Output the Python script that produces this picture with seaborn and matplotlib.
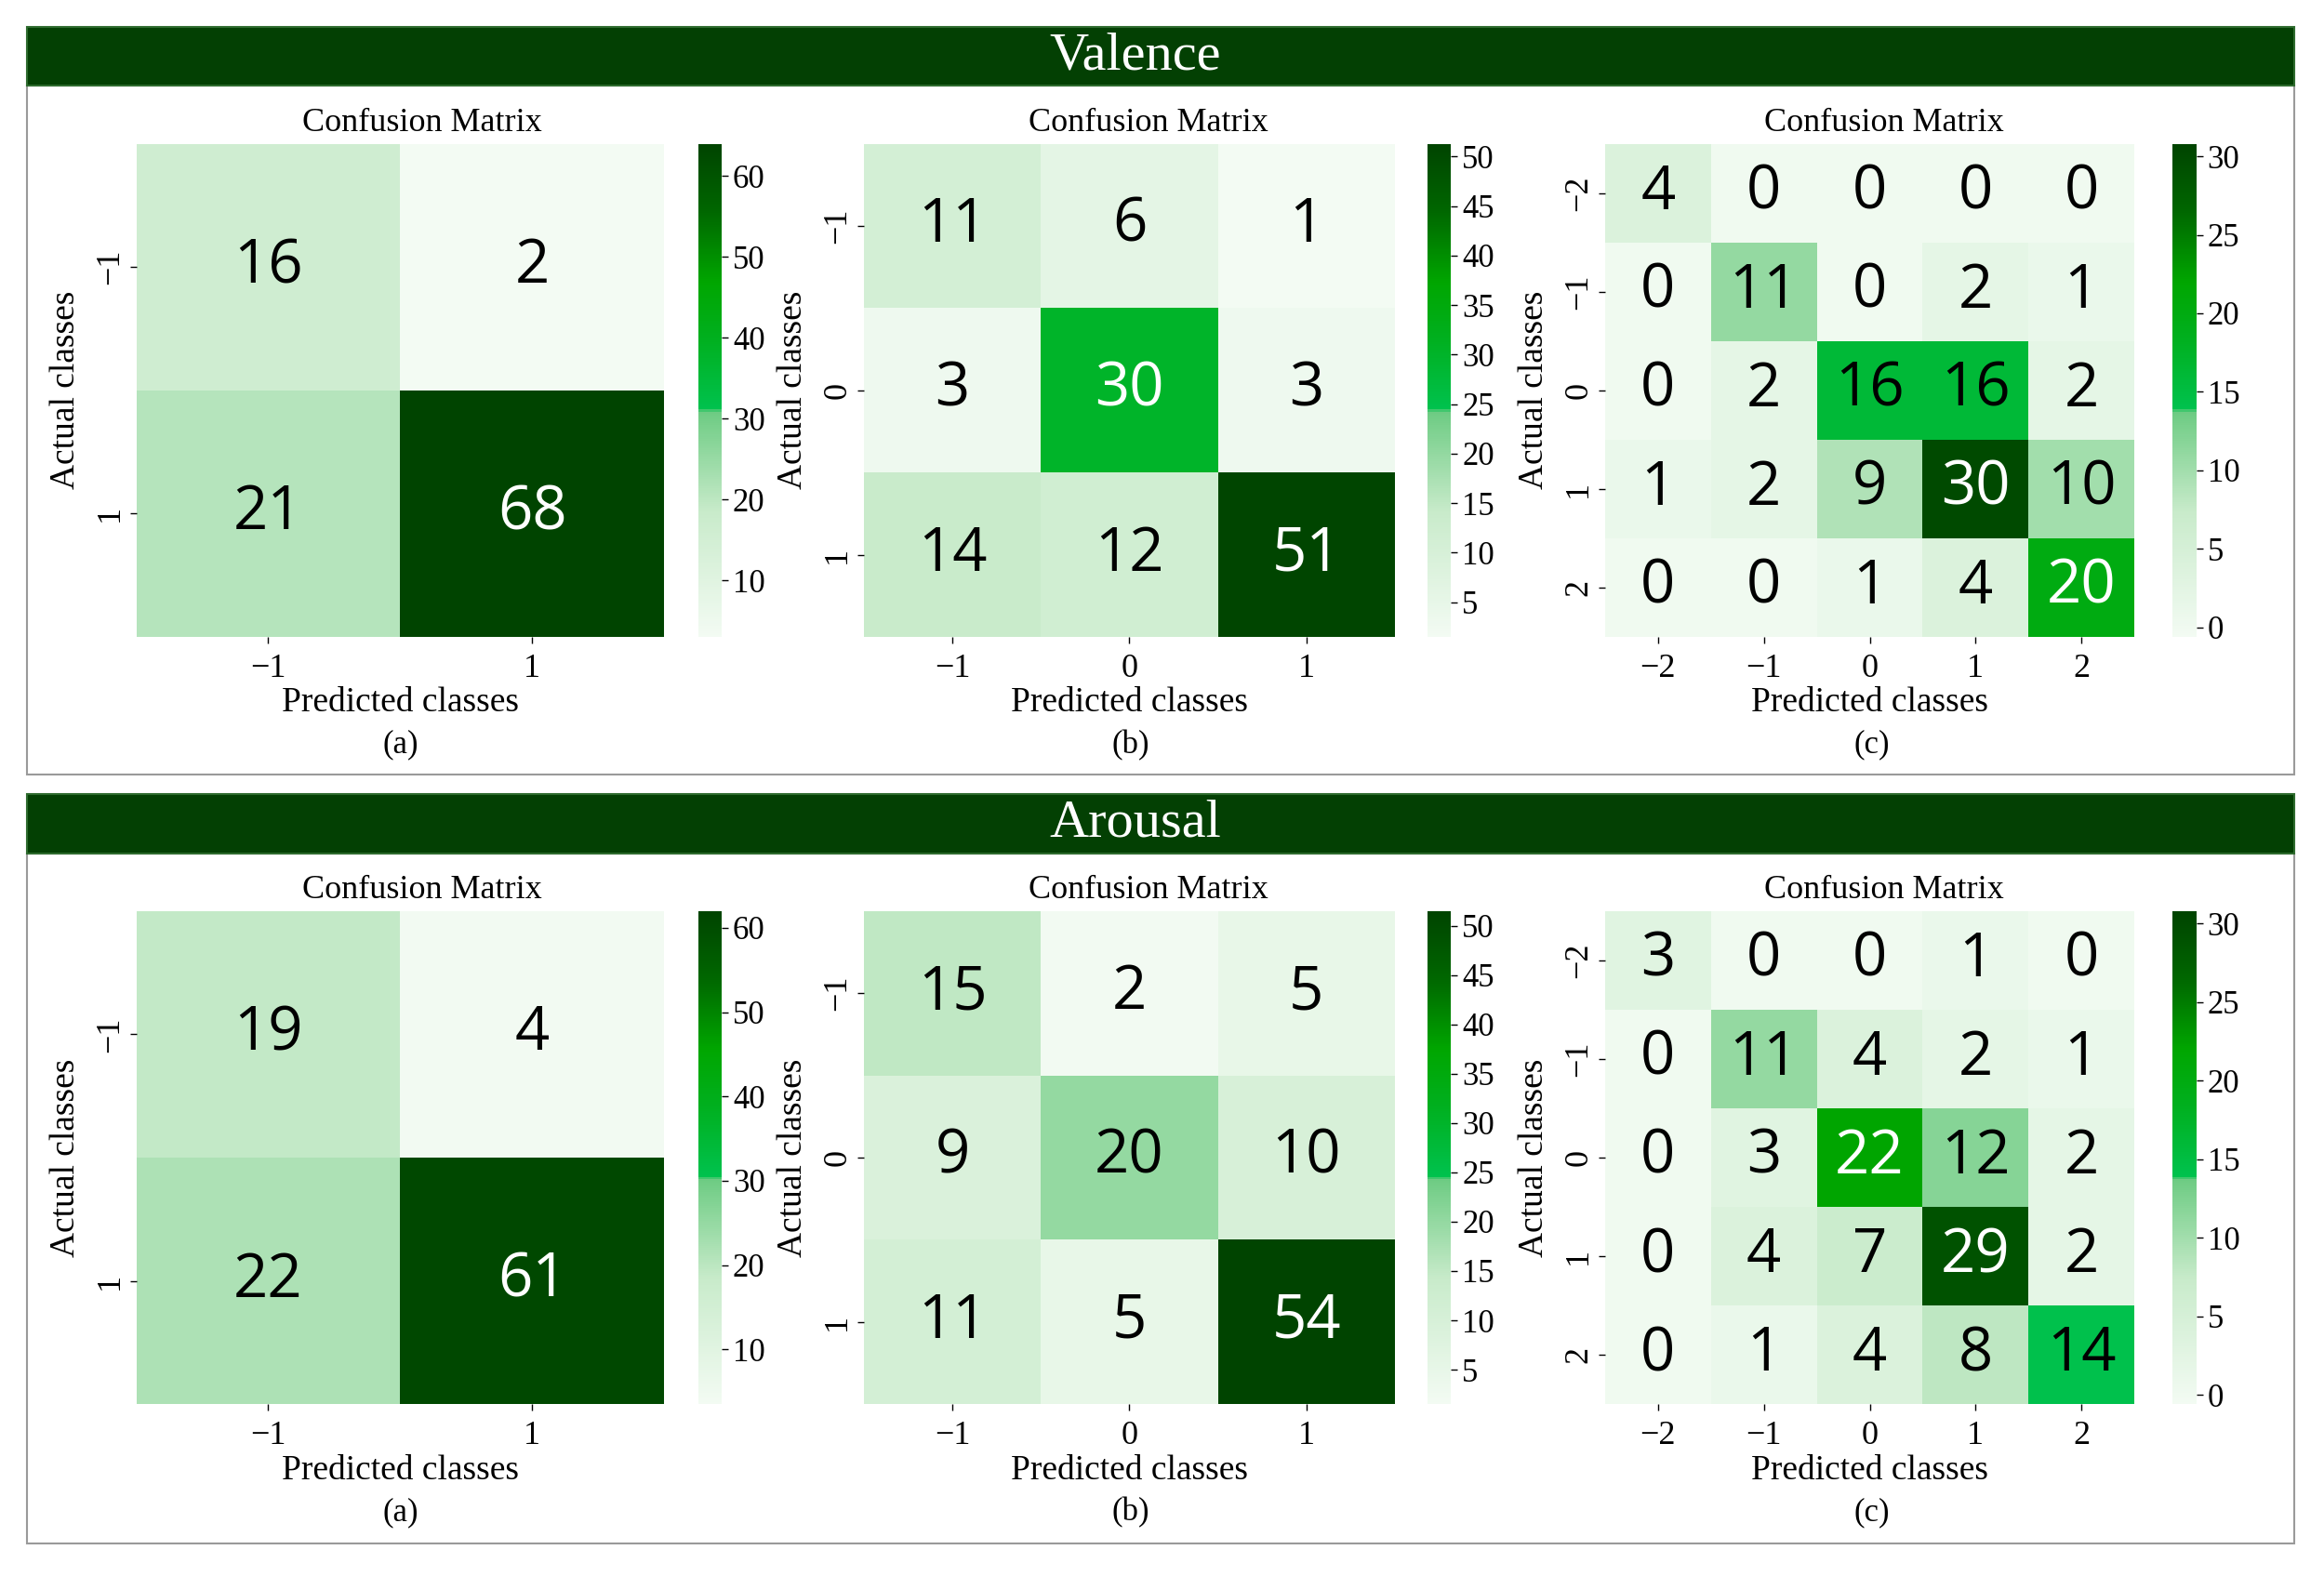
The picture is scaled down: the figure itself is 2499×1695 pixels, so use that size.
import numpy as np
import matplotlib
matplotlib.use("Agg")
import matplotlib.pyplot as plt
from matplotlib.colors import LinearSegmentedColormap, Normalize
from matplotlib.patches import Rectangle
from matplotlib.ticker import FuncFormatter
import seaborn as sns

# 데이터: 혼동 행렬 값
labels_2 = ["\u22121", "1"]
labels_3 = ["\u22121", "0", "1"]
labels_5 = ["\u22122", "\u22121", "0", "1", "2"]

valence_2 = np.array([[16, 2],
                      [21, 68]])
valence_3 = np.array([[11, 6, 1],
                      [3, 30, 3],
                      [14, 12, 51]])
valence_5 = np.array([[4, 0, 0, 0, 0],
                      [0, 11, 0, 2, 1],
                      [0, 2, 16, 16, 2],
                      [1, 2, 9, 30, 10],
                      [0, 0, 1, 4, 20]])

arousal_2 = np.array([[19, 4],
                      [22, 61]])
arousal_3 = np.array([[15, 2, 5],
                      [9, 20, 10],
                      [11, 5, 54]])
arousal_5 = np.array([[3, 0, 0, 1, 0],
                      [0, 11, 4, 2, 1],
                      [0, 3, 22, 12, 2],
                      [0, 4, 7, 29, 2],
                      [0, 1, 4, 8, 14]])

# 컬러바 범위
valence_ranges = [(3, 64), (1.5, 51.3), (-0.6, 30.8)]
arousal_ranges = [(3.5, 62), (1.5, 51.5), (-0.6, 30.8)]
cbar_ticks = [[10, 20, 30, 40, 50, 60],
              [5, 10, 15, 20, 25, 30, 35, 40, 45, 50],
              [0, 5, 10, 15, 20, 25, 30]]

cmap = LinearSegmentedColormap.from_list("custom_greens", [
    (0.0, "#f3fbf3"),
    (0.25, "#c9ebcb"),
    (0.458, "#6ccb82"),
    (0.46, "#00c24e"),
    (0.6, "#00b020"),
    (0.72, "#00a600"),
    (0.86, "#006800"),
    (1.0, "#004400"),
])

serif = "Liberation Serif"
sans = "Open Sans"

fig = plt.figure(figsize=(24.99, 16.95), dpi=100)

W, H = 1568.0, 1064.0
hm_x = [(92, 448), (583, 941), (1083, 1440)]
cb_x = [(471, 487), (963, 979), (1466, 1482)]
title_cx = [285, 775, 1271]
sub_cx = [270, 763, 1263]
sub_names = ["(a)", "(b)", "(c)"]


def fx(px):
    return px / W


def fy(py):
    return 1 - py / H


def draw_section(name, mats, ranges, top, bottom, banner_top, banner_bot, box_bot, sub_y):
    # 패널 테두리
    fig.patches.append(Rectangle((fx(18), fy(box_bot)), fx(1548) - fx(18), fy(banner_bot) - fy(box_bot),
                                 transform=fig.transFigure, facecolor="none",
                                 edgecolor="#9a9a9a", linewidth=1.5, zorder=0))
    # 제목 배너
    fig.patches.append(Rectangle((fx(18), fy(banner_bot)), fx(1548) - fx(18), fy(banner_top) - fy(banner_bot),
                                 transform=fig.transFigure, facecolor="#034003",
                                 edgecolor="#2e6b2e", linewidth=1.5, zorder=1))
    fig.text(fx(766), (fy(banner_top) + fy(banner_bot)) / 2, name, color="white", family=serif,
             fontsize=42, ha="center", va="center", zorder=2)

    for i, (mat, (vmin, vmax)) in enumerate(zip(mats, ranges)):
        x0, x1 = hm_x[i]
        c0, c1 = cb_x[i]
        ax = fig.add_axes([fx(x0), fy(bottom), fx(x1 - x0), fy(top) - fy(bottom)])
        cax = fig.add_axes([fx(c0), fy(bottom), fx(c1 - c0), fy(top) - fy(bottom)])
        labels = [labels_2, labels_3, labels_5][i]
        sns.heatmap(mat, ax=ax, cbar_ax=cax, cmap=cmap, vmin=vmin, vmax=vmax,
                    annot=True, fmt="d", xticklabels=labels, yticklabels=labels,
                    annot_kws={"fontsize": 47, "family": sans})
        norm = Normalize(vmin, vmax)
        for t, v in zip(ax.texts, mat.flatten()):
            t.set_color("white" if norm(v) > 0.56 else "black")
        ax.set_title("Confusion Matrix", family=serif, fontsize=26, pad=10,
                     x=(title_cx[i] - x0) / (x1 - x0))
        ax.set_xlabel("Predicted classes", family=serif, fontsize=27, labelpad=2)
        ax.set_ylabel("Actual classes", family=serif, fontsize=27, labelpad=10)
        ax.tick_params(axis="both", labelsize=26, length=5, width=1)
        ax.tick_params(axis="x", pad=8)
        for lab in ax.get_xticklabels():
            lab.set_family(serif)
            lab.set_rotation(0)
        for lab in ax.get_yticklabels():
            lab.set_family(serif)
            lab.set_rotation(90)
            lab.set_va("center")
        cax.set_yticks(cbar_ticks[i])
        cax.yaxis.set_major_formatter(FuncFormatter(lambda v, p: f"{v:.0f}".replace("-", "\u2212")))
        cax.tick_params(labelsize=25, length=5, width=1)
        for lab in cax.get_yticklabels():
            lab.set_family(serif)
        fig.text(fx(sub_cx[i]), fy(sub_y), sub_names[i], family=serif, fontsize=25,
                 ha="center", va="center")


draw_section("Valence", [valence_2, valence_3, valence_5], valence_ranges,
             97, 430, 18, 58, 523, 503)
draw_section("Arousal", [arousal_2, arousal_3, arousal_5], arousal_ranges,
             615, 948, 536, 576, 1042, 1021)

fig.savefig("out.png", dpi=100, facecolor="white")
